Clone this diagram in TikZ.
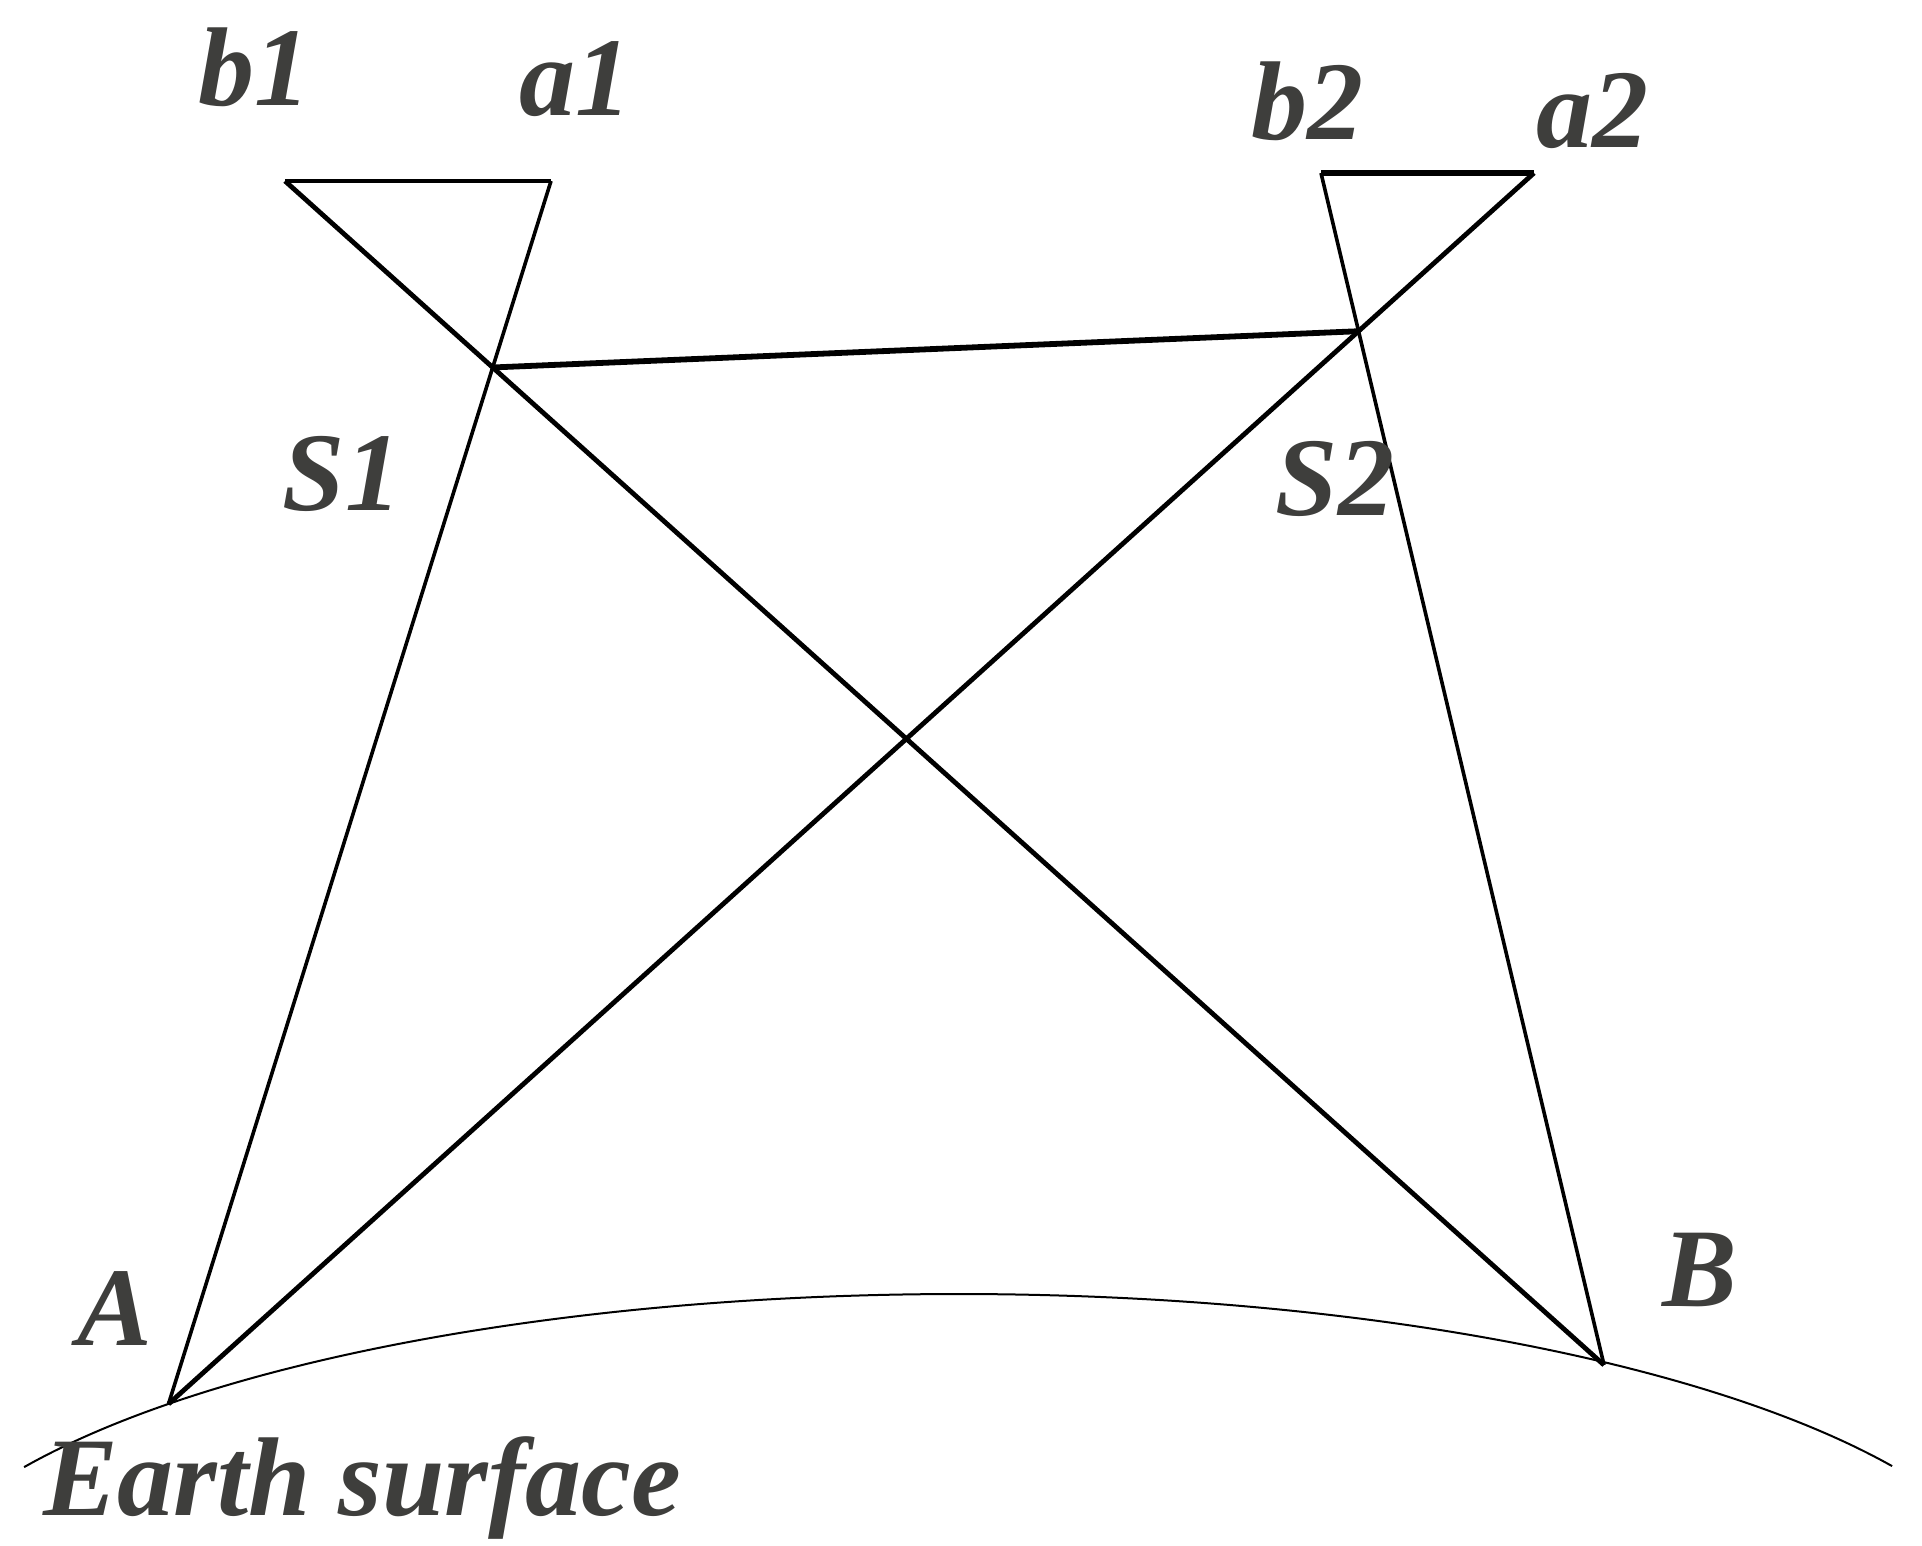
\documentclass[tikz,border=0pt]{standalone}
\usepackage{fontspec}
\setmainfont{Liberation Serif}
\definecolor{txt}{HTML}{3E3E3C}
\begin{document}
\begin{tikzpicture}[x=0.5pt,y=-0.5pt,
  lbl/.style={anchor=base,inner sep=0pt,text=txt,font=\fontsize{56}{60}\selectfont\bfseries\itshape},
  thinline/.style={line width=1.8pt,line join=miter},
  thickline/.style={line width=2.4pt,line join=miter},
  earth/.style={line width=1pt}]
\useasboundingbox (0,0) rectangle (1922,1546);
% points
\coordinate (b1) at (285,181);
\coordinate (a1) at (551,181);
\coordinate (b2) at (1321,173);
\coordinate (a2) at (1534,173);
\coordinate (A) at (168.5,1404);
\coordinate (B) at (1604,1365);
\coordinate (S1) at (intersection of b1--B and a1--A);
\coordinate (S2) at (intersection of a2--A and b2--B);
% earth surface
\draw[earth] plot[domain=29.3:150.9,samples=120,smooth] ({959+1070*cos(\x)},{1631-337*sin(\x)});
% beams
\draw[thinline] (a1) -- (A);
\draw[thinline] (b2) -- (B);
\draw[thickline] (b1) -- (B);
\draw[thickline] (a2) -- (A);
\draw[line width=2pt] (b1) -- (a1);
\draw[line width=3pt] (b2) -- (a2);
\draw[line width=2.9pt] (S1) -- (S2);
% labels
\node[lbl] (lb1) at (254,106) {b1};
\node[lbl] (la1) at (575,116) {a1};
\node[lbl] (lb2) at (1307,140) {b2};
\node[lbl] (la2) at (1592,148) {a2};
\node[lbl] (lS1) at (342,510) {S1};
\node[lbl] (lS2) at (1335,515) {S2};
\node[lbl] (lA) at (115,1345) {A};
\node[lbl] (lB) at (1700,1306) {B};
\node[lbl] (lE) at (362,1515) {Earth surface};
\end{tikzpicture}
\end{document}
